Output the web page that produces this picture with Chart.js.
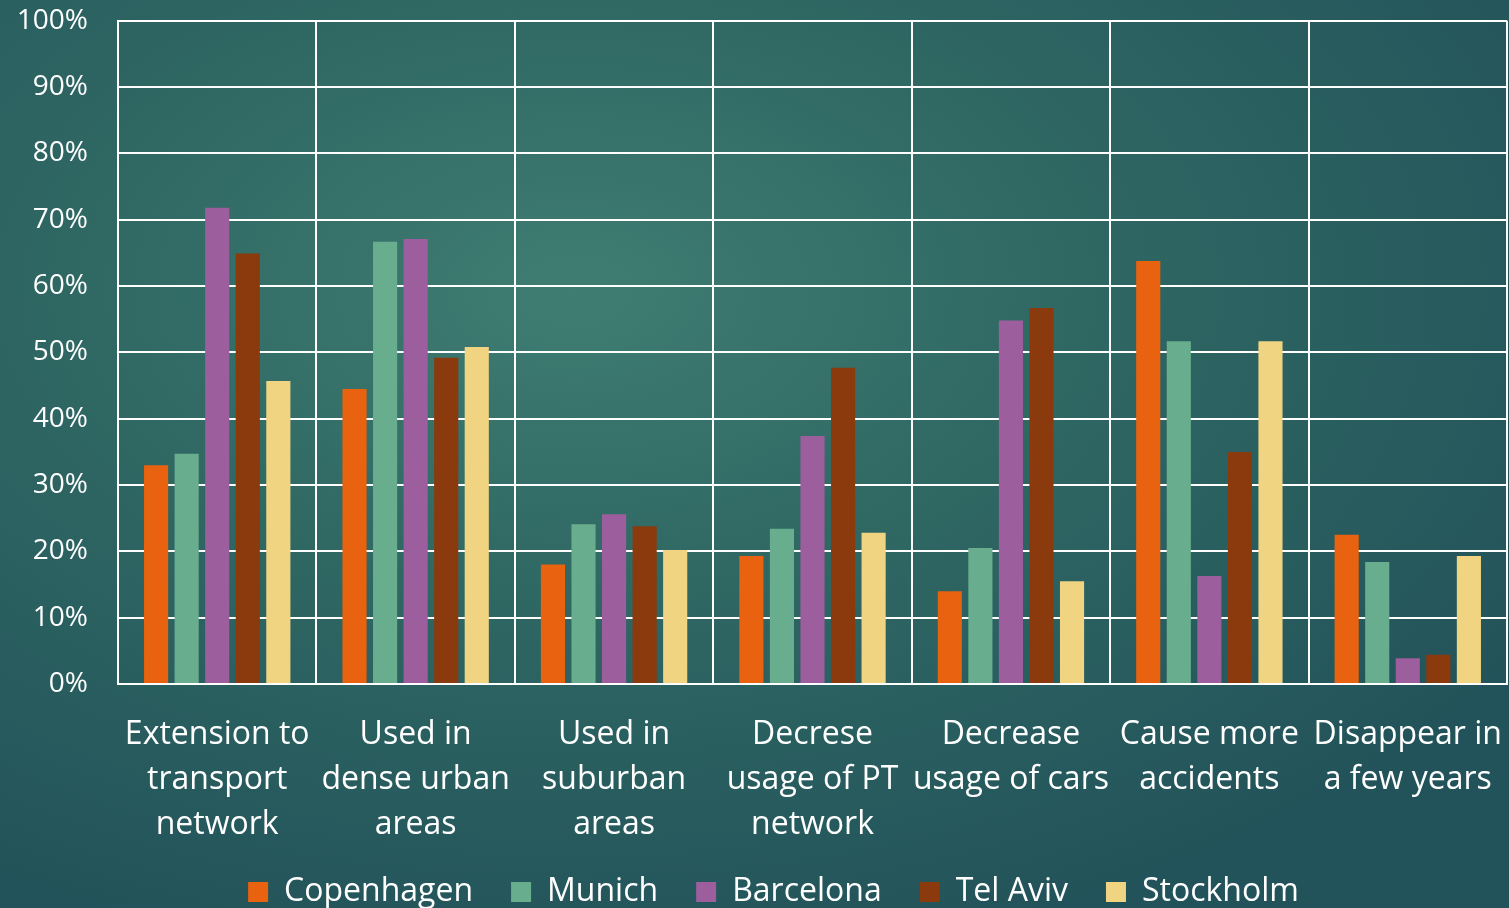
<!DOCTYPE html>
<html>
<head>
<meta charset="utf-8">
<script src="https://cdn.jsdelivr.net/npm/chart.js@4/dist/chart.umd.min.js"></script>
<style>
  html, body { margin: 0; padding: 0; }
  body {
    width: 1509px; height: 908px; overflow: hidden;
    background: radial-gradient(ellipse 75% 75% at 38% 32%, #3f7d72 0%, #2f6763 45%, #22535a 100%);
  }
  #wrap { position: relative; width: 1509px; height: 908px; }
</style>
</head>
<body>
<div id="wrap"><canvas id="chart" width="1509" height="908"></canvas></div>
<script>
// 카테고리 (x축 라벨, 줄 단위)
const categories = [
  ['Extension to', 'transport', 'network'],
  ['Used in', 'dense urban', 'areas'],
  ['Used in', 'suburban', 'areas'],
  ['Decrese', 'usage of PT', 'network'],
  ['Decrease', 'usage of cars'],
  ['Cause more', 'accidents'],
  ['Disappear in', 'a few years'],
];

const copenhagen = [33, 44.5, 18, 19.3, 14, 63.8, 22.5];
const munich     = [34.7, 66.7, 24.1, 23.4, 20.5, 51.7, 18.4];
const barcelona  = [71.8, 67.1, 25.6, 37.4, 54.8, 16.3, 3.9];
const telAviv    = [64.9, 49.2, 23.8, 47.7, 56.7, 35, 4.4];
const stockholm  = [45.7, 50.8, 20.2, 22.8, 15.5, 51.7, 19.3];

const seriesNames = ['Copenhagen', 'Munich', 'Barcelona', 'Tel Aviv', 'Stockholm'];
const seriesColors = ['#e8620f', '#69ad8f', '#9c5e9d', '#8a3a0d', '#f0d482'];

const FONT = '"Open Sans", Lato, sans-serif';
const WHITE = '#ffffff';

const datasets = [copenhagen, munich, barcelona, telAviv, stockholm].map((d, i) => ({
  label: seriesNames[i],
  data: d,
  backgroundColor: seriesColors[i],
  borderWidth: 0,
  barPercentage: 0.79,
  categoryPercentage: 0.77,
}));

// 범례를 오른쪽으로 살짝 이동
const legendShift = {
  id: 'legendShift',
  afterLayout(chart) {
    if (chart.legend) {
      chart.legend.left += 20;
      chart.legend.right += 20;
    }
  },
};

new Chart(document.getElementById('chart').getContext('2d'), {
  type: 'bar',
  data: { labels: categories, datasets },
  plugins: [legendShift],
  options: {
    responsive: false,
    animation: false,
    devicePixelRatio: 1,
    layout: { padding: { top: 0, right: 2, left: 0, bottom: -10 } },
    scales: {
      x: {
        grid: { color: WHITE, lineWidth: 2, offset: true, drawTicks: false },
        border: { color: WHITE, width: 2 },
        ticks: {
          color: WHITE,
          font: { family: FONT, size: 32, lineHeight: '45px' },
          padding: 28,
          maxRotation: 0,
          autoSkip: false,
        },
        afterFit(scale) {
          scale.height = 154;
          scale.paddingRight = 2;
          scale.paddingLeft = 0;
        },
      },
      y: {
        min: 0, max: 100,
        // 눈금 표시는 투명하게, 라벨 간격용으로만 사용
        grid: { color: WHITE, lineWidth: 2, drawTicks: true, tickLength: 26, tickColor: 'rgba(0,0,0,0)' },
        border: { color: WHITE, width: 2 },
        ticks: {
          stepSize: 10,
          color: WHITE,
          padding: 4,
          font: { family: FONT, size: 28 },
          callback: v => v + '%',
        },
        afterFit(scale) { scale.width = 118; },
      },
    },
    plugins: {
      tooltip: { enabled: false },
      legend: {
        position: 'bottom',
        labels: {
          color: WHITE,
          font: { family: FONT, size: 32 },
          boxWidth: 20,
          boxHeight: 20,
          padding: 38,
        },
      },
    },
  },
});
</script>
</body>
</html>
